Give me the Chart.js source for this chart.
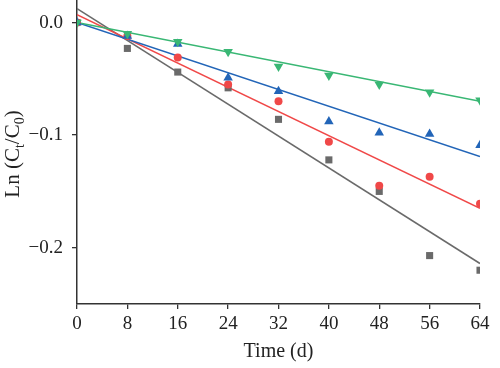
<!DOCTYPE html>
<html>
<head>
<meta charset="utf-8">
<script src="https://cdn.jsdelivr.net/npm/chart.js@4/dist/chart.umd.min.js"></script>
<style>
   html, body { margin: 0; padding: 0; background: #fff; }
   #wrap { width: 500px; height: 368px; }
</style>
</head>
<body>
<div id="wrap"><canvas id="chart"></canvas></div>
<script>
'use strict';

// sampling days
const days = [0, 8, 16, 24, 32, 40, 48, 56, 64];

// measured Ln(Ct/C0) values
const graySeries = [0, -0.023, -0.044, -0.058, -0.086, -0.122, -0.150, -0.207, -0.220];
const redSeries = [0, -0.012, -0.031, -0.055, -0.070, -0.106, -0.145, -0.137, -0.161];
const blueSeries = [0, -0.012, -0.019, -0.049, -0.061, -0.088, -0.098, -0.099, -0.109];
const greenSeries = [0, -0.010, -0.017, -0.026, -0.039, -0.047, -0.055, -0.062, -0.069];

// fitted lines: value at day 0 and at day 64
const fitDays = [0, 64];
const grayFit = [0.0124, -0.214];
const redFit = [0.007, -0.165];
const blueFit = [0, -0.119];
const greenFit = [0, -0.070];

const xTicks = [0, 8, 16, 24, 32, 40, 48, 56, 64];
const yTicks = [0, -0.1, -0.2];

const FONT = 'Liberation Serif, DejaVu Serif, serif';

//Pair x and y arrays into points
function pts(xs, ys) {
   return xs.map((x, i) => ({x: x, y: ys[i]}));
}

function pointSet(ys, color, style, radius, rotation) {
   return {
      data: pts(days, ys),
      showLine: false,
      pointStyle: style,
      pointRadius: radius,
      pointRotation: rotation || 0,
      pointBackgroundColor: color,
      pointBorderColor: color,
      pointBorderWidth: 0
   };
}

function fitSet(ys, color) {
   return {
      data: pts(fitDays, ys),
      showLine: true,
      borderColor: color,
      borderWidth: 1.6,
      pointRadius: 0
   };
}

const GRAY = '#6a6a6a', RED = '#f04848', BLUE = '#2265b8', GREEN = '#39b774';

//Y axis title with subscripts
const yTitle = {
   id: 'yTitle',
   afterDraw(chart) {
      const c = chart.ctx;
      const parts = [['Ln (C', 0], ['t', 1], ['/C', 0], ['0', 1], [')', 0]];
      const big = '21px ' + FONT, small = '14px ' + FONT;
      let total = 0;
      parts.forEach(p => {
         c.font = p[1] ? small : big;
         total += c.measureText(p[0]).width;
      });
      c.save();
      c.translate(19, 154);
      c.rotate(-Math.PI / 2);
      c.fillStyle = '#222';
      c.textBaseline = 'alphabetic';
      let x = -total / 2;
      parts.forEach(p => {
         c.font = p[1] ? small : big;
         c.fillText(p[0], x, p[1] ? 5 : 0);
         x += c.measureText(p[0]).width;
      });
      c.restore();
   }
};

new Chart(document.getElementById('chart'), {
   type: 'scatter',
   data: {
      datasets: [
         pointSet(greenSeries, GREEN, 'triangle', 5.5, 180),
         pointSet(blueSeries, BLUE, 'triangle', 5.5),
         pointSet(redSeries, RED, 'circle', 4),
         pointSet(graySeries, GRAY, 'rect', 5),
         fitSet(greenFit, GREEN),
         fitSet(blueFit, BLUE),
         fitSet(redFit, RED),
         fitSet(grayFit, GRAY)
      ]
   },
   options: {
      responsive: true,
      maintainAspectRatio: false,
      animation: false,
      layout: {autoPadding: false, padding: {top: 0, right: 20, left: 0, bottom: 0}},
      plugins: {legend: {display: false}, tooltip: {enabled: false}},
      scales: {
         x: {
            type: 'linear',
            min: 0,
            max: 64,
            afterBuildTicks: s => { s.ticks = xTicks.map(v => ({value: v})); },
            afterFit: s => { s.height = 64; },
            grid: {display: true, drawOnChartArea: false, drawTicks: true, tickLength: 5, color: '#333', lineWidth: 1.3},
            border: {display: true, color: '#333', width: 1.5},
            ticks: {color: '#222', font: {family: FONT, size: 19}, padding: 4, maxRotation: 0},
            title: {display: true, text: 'Time (d)', color: '#222', font: {family: FONT, size: 20}, padding: {top: 0, bottom: 4}}
         },
         y: {
            min: -0.25,
            max: 0.02,
            afterBuildTicks: s => { s.ticks = yTicks.map(v => ({value: v})); },
            afterFit: s => {
               s.width = 77;
               // let the plot reach the top edge
               s.paddingTop = 0;
               s.paddingBottom = 0;
            },
            grid: {display: true, drawOnChartArea: false, drawTicks: true, tickLength: 5, color: '#333', lineWidth: 1.3},
            border: {display: true, color: '#333', width: 1.5},
            ticks: {
               color: '#222',
               font: {family: FONT, size: 19},
               padding: 9,
               callback: v => (v < 0 ? '\u2212' : '') + Math.abs(v).toFixed(1)
            }
         }
      }
   },
   plugins: [yTitle]
});
</script>
</body>
</html>
